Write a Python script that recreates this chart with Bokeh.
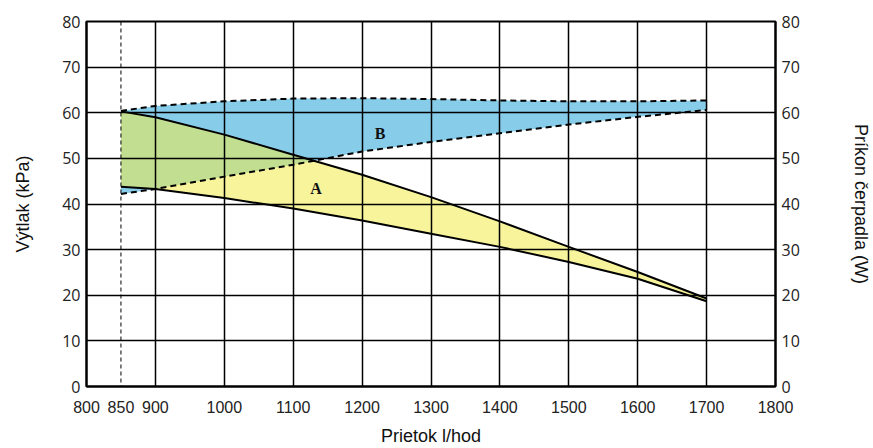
import numpy as np
from bokeh.plotting import figure
from bokeh.models import Range1d, LinearAxis, FixedTicker, Span, Label
from bokeh.embed import file_html
from bokeh.resources import INLINE

# ---- data ----
flow = [850, 900, 1000, 1100, 1200, 1300, 1400, 1500, 1600, 1700]
pressure_high = [60.3, 59.0, 55.2, 50.8, 46.4, 41.5, 36.2, 30.6, 25.1, 19.3]
pressure_low = [43.8, 43.3, 41.3, 39.0, 36.4, 33.5, 30.6, 27.3, 23.6, 18.7]
power_high = [60.4, 61.5, 62.5, 63.1, 63.2, 63.0, 62.7, 62.5, 62.5, 62.7]
power_low = [42.2, 43.3, 46.0, 48.6, 51.5, 53.6, 55.5, 57.4, 59.1, 60.6]
x_ticks = [800, 850, 900, 1000, 1100, 1200, 1300, 1400, 1500, 1600, 1700, 1800]
x_grid = [900, 1000, 1100, 1200, 1300, 1400, 1500, 1600, 1700]
y_ticks = [0, 10, 20, 30, 40, 50, 60, 70, 80]
y_grid = [10, 20, 30, 40, 50, 60, 70]
label_a = ("A", 1133, 43.5)
label_b = ("B", 1226, 55.5)

BLUE = "#87cdea"
YELLOW = "#f8f49b"
GREEN = "#c2de91"

p = figure(width=873, height=448, output_backend="svg", toolbar_location=None,
           x_range=Range1d(800, 1800), y_range=Range1d(0, 80),
           min_border_left=86, min_border_right=98, min_border_top=21, min_border_bottom=61)
p.extra_y_ranges = {"power": Range1d(0, 80)}
p.background_fill_color = "white"
p.border_fill_color = "white"
p.outline_line_color = "black"
p.outline_line_width = 2

# fills
p.varea(x=flow, y1=power_low, y2=power_high, fill_color=BLUE, y_range_name="power")
p.varea(x=flow, y1=pressure_low, y2=pressure_high, fill_color=YELLOW)

# overlap region (green) derived from the two bands
xs = np.linspace(flow[0], flow[-1], 4001)
top = np.minimum(np.interp(xs, flow, pressure_high), np.interp(xs, flow, power_high))
bot = np.maximum(np.interp(xs, flow, pressure_low), np.interp(xs, flow, power_low))
m = top >= bot
gx = xs[m]
p.patch(x=np.concatenate([gx, gx[::-1]]), y=np.concatenate([top[m], bot[m][::-1]]),
        fill_color=GREEN, line_color=None)

# blue right edge at 1700
p.segment(x0=[flow[-1]], y0=[power_low[-1]], x1=[flow[-1]], y1=[power_high[-1]],
          line_color="black", line_width=1, y_range_name="power")

# curves
p.line(flow, pressure_high, line_color="black", line_width=2)
p.line(flow, pressure_low, line_color="black", line_width=2)
p.line(flow, power_high, line_color="black", line_width=2, line_dash="6 4", y_range_name="power")
p.line(flow, power_low, line_color="black", line_width=2, line_dash="6 4", y_range_name="power")

# dashed vertical at 850
p.add_layout(Span(location=850, dimension="height", line_color="black",
                  line_width=1, line_dash="4 3"))

for txt, lx, ly in (label_a, label_b):
    p.add_layout(Label(x=lx, y=ly, text=txt, text_align="center", text_baseline="middle",
                       text_font="Liberation Serif", text_font_style="bold",
                       text_font_size="16px", text_color="#111111"))

# grids
p.xgrid.ticker = FixedTicker(ticks=x_grid)
p.ygrid.ticker = FixedTicker(ticks=y_grid)
for g in (p.xgrid, p.ygrid):
    g.grid_line_color = "black"
    g.grid_line_width = 1.5
    g.grid_line_alpha = 1.0
    g.level = "annotation"

# axes
p.xaxis.ticker = FixedTicker(ticks=x_ticks)
p.xaxis.axis_label = "Prietok l/hod"
p.xaxis.axis_label_text_font = "Liberation Sans"
p.xaxis.axis_label_text_font_size = "18px"
p.xaxis.axis_label_text_font_style = "normal"
p.xaxis.axis_label_standoff = 10
p.xaxis.major_label_text_font = "Liberation Sans"
p.xaxis.major_label_text_font_size = "16px"
p.xaxis.major_label_standoff = 14

p.yaxis.ticker = FixedTicker(ticks=y_ticks)
p.yaxis.axis_label = "Výtlak (kPa)"
p.yaxis.axis_label_standoff = 26

right = LinearAxis(y_range_name="power", ticker=FixedTicker(ticks=y_ticks),
                   axis_label="Príkon čerpadla (W)")
right.axis_label_standoff = 48
p.add_layout(right, "right")

for ax in (p.yaxis[0], right):
    ax.axis_label_text_font = "Liberation Sans"
    ax.axis_label_text_font_size = "18px"
    ax.axis_label_text_font_style = "normal"
    ax.major_label_text_font = "Open Sans"
    ax.major_label_text_font_size = "16px"
    ax.major_label_standoff = 6

for ax in (p.xaxis[0], p.yaxis[0], right):
    ax.major_tick_in = 0
    ax.major_tick_out = 0
    ax.minor_tick_in = 0
    ax.minor_tick_out = 0
    ax.axis_line_color = "black"
    ax.axis_line_width = 2
    ax.major_label_text_color = "#222222"
    ax.axis_label_text_color = "#111111"

open("out.html", "w").write(file_html(p, INLINE))
